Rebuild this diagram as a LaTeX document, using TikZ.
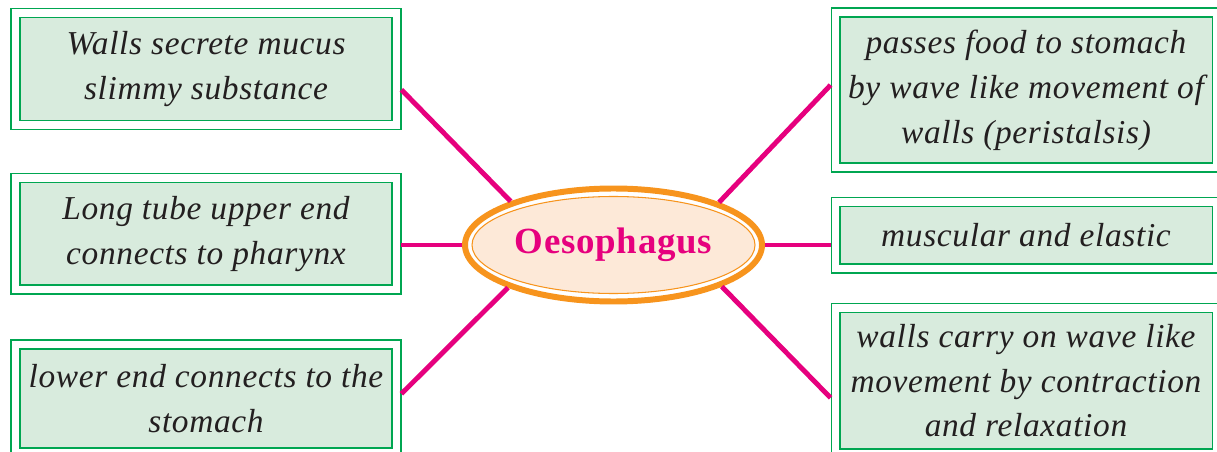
\documentclass[tikz,border=0pt]{standalone}
\usepackage{fontspec}
\setmainfont{Liberation Serif}[LetterSpace=2]
\usetikzlibrary{shapes.geometric, calc}
\definecolor{LeafGreen}{RGB}{0,166,81}
\definecolor{PaleGreen}{RGB}{216,235,221}
\definecolor{HotMagenta}{RGB}{230,0,126}
\definecolor{DeepOrange}{RGB}{247,148,29}
\definecolor{Peach}{RGB}{253,233,216}
\definecolor{InkGrey}{RGB}{35,31,32}

\begin{document}
\begin{tikzpicture}[
    fact/.style={draw=LeafGreen, line width=0.6pt, double=white, double distance=4.5pt,
        fill=PaleGreen, minimum width=7.62cm, inner sep=0, outer sep=2.8pt, align=center,
        text=InkGrey, font=\fontsize{19}{25.5}\selectfont\itshape},
    hub/.style={ellipse, draw=DeepOrange, line width=3.4pt, fill=white, inner sep=0,
        minimum width=5.94cm, minimum height=2.26cm},
    hubcore/.style={ellipse, draw=DeepOrange, line width=0.6pt, fill=Peach, inner sep=0,
        minimum width=5.66cm, minimum height=1.94cm, text=HotMagenta,
        font=\fontsize{21}{25}\selectfont\bfseries},
    link/.style={draw=HotMagenta, line width=2.8pt},
]
\useasboundingbox (0,0) rectangle (24.34,-9.04);

% ===== centro =====
\node[hub] (hub) at (12.27,-4.90) {};
\node[hubcore] (hubin) at (hub.center) {Oesophagus};

% ===== cajas izquierda =====
\node[fact, minimum height=2.24cm] (b1) at (4.12,-1.38)
    {Walls secrete mucus\\slimmy substance};
\node[fact, minimum height=2.23cm] (b2) at (4.12,-4.675)
    {Long tube upper end\\connects to pharynx};
\node[fact, minimum height=2.16cm] (b3) at (4.12,-7.97)
    {lower end connects to the\\stomach};

% ===== cajas derecha =====
\node[fact, minimum height=3.1cm] (b4) at (20.52,-1.8)
    {passes food to stomach\\by wave like movement of\\walls (peristalsis)};
\node[fact, minimum height=1.33cm] (b5) at (20.52,-4.705)
    {muscular and elastic};
\node[fact, minimum height=2.91cm] (b6) at (20.52,-7.615)
    {walls carry on wave like\\movement by contraction\\and relaxation};

% ===== conectores =====
\draw[link] ($(b1.north east)!0.67!(b1.south east)$) -- (hub.157);
\draw[link] (hub.west) -- (hub.west -| b2.east);
\draw[link] ($(b3.north east)!0.46!(b3.south east)$) -- (hub.202);
\draw[link] ($(b4.north west)!0.47!(b4.south west)$) -- (hub.22.5);
\draw[link] (hub.east) -- (hub.east -| b5.west);
\draw[link] ($(b6.north west)!0.61!(b6.south west)$) -- (hub.339);

\end{tikzpicture}
\end{document}
